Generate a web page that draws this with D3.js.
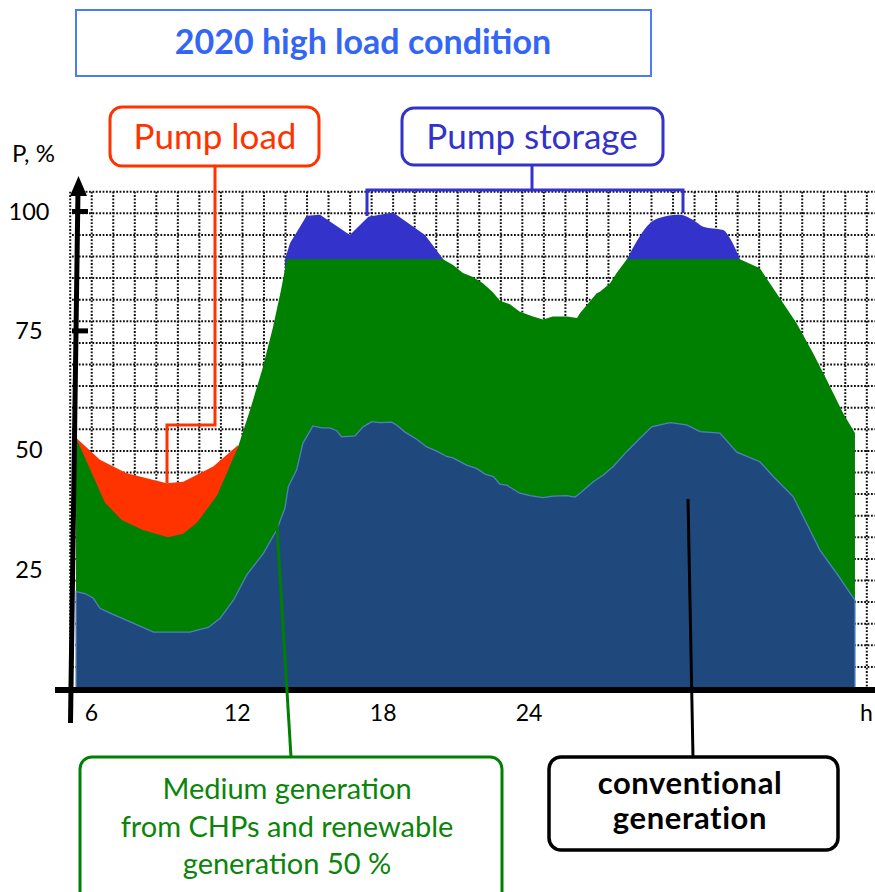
<!DOCTYPE html>
<html><head><meta charset="utf-8">
<script src="https://cdn.jsdelivr.net/npm/d3@7"></script>
<style>body{margin:0;background:#fff}svg{display:block}text{font-family:Lato,"Open Sans",sans-serif}</style>
</head><body><svg id="c" width="875" height="892"></svg>
<script>
// ---- data (hour of day, percent of peak) ----
const conventional = [[5.37,20.4],[5.74,20.0],[6.08,19.0],[6.35,16.9],[6.77,15.9],[7.72,13.8],[8.55,11.9],[10.06,11.9],[10.47,12.5],[10.81,12.9],[11.29,14.8],[11.84,18.6],[12.39,23.9],[13.07,28.4],[13.62,33.3],[13.96,37.9],[14.10,42.4],[14.44,45.9],[14.70,51.5],[15.11,55.1],[15.47,54.7],[15.81,54.7],[16.09,54.1],[16.29,52.8],[16.84,53.0],[17.17,54.9],[17.53,56.0],[17.87,55.8],[18.35,55.9],[18.55,55.3],[18.90,53.8],[19.38,52.3],[19.79,50.7],[20.20,49.8],[20.61,48.7],[20.87,48.4],[21.43,46.9],[21.84,46.2],[22.19,45.0],[22.53,44.5],[22.80,42.9],[23.08,42.7],[23.62,41.0],[24.04,40.5],[24.58,40.1],[24.99,40.4],[25.54,40.5],[25.89,40.2],[26.09,41.0],[26.64,43.4],[27.05,44.8],[27.46,46.6],[28.01,49.7],[28.56,52.5],[29.04,54.9],[29.79,55.8],[30.48,55.3],[31.03,53.9],[31.85,53.6],[32.54,49.6],[33.49,47.6],[34.04,44.5],[34.86,40.3],[35.41,34.7],[35.96,29.1],[36.65,24.2],[37.40,18.6]];
const medium = [[5.37,52.6],[6.56,39.0],[7.25,35.4],[8.12,33.3],[9.15,31.8],[9.77,32.5],[10.34,34.8],[11.17,40.6],[12.03,50.7],[12.52,58.4],[13.02,66.8],[13.47,75.8],[13.80,83.6],[14.04,90.0],[20.46,90.0],[20.87,88.8],[21.28,87.1],[21.69,86.3],[22.10,85.0],[22.51,83.1],[22.80,81.3],[23.21,80.6],[23.62,79.0],[24.16,78.0],[24.57,77.4],[24.98,78.0],[25.56,78.0],[25.97,77.7],[26.09,78.7],[26.78,82.9],[26.91,83.2],[27.33,85.0],[27.60,87.1],[28.02,90.0],[32.67,90.0],[33.49,88.1],[33.90,85.0],[34.45,80.8],[35.00,76.6],[35.68,70.3],[36.24,64.7],[36.92,57.7],[37.40,53.6]];
const pumpLoad = [[5.37,52.6],[6.35,48.0],[7.45,45.2],[9.10,43.1],[9.78,43.4],[11.01,46.6],[12.04,51.1]];
const pumpStorageDay = [[13.96,90.0],[14.17,93.4],[14.58,96.8],[14.85,99.1],[15.40,99.3],[16.63,95.1],[17.39,98.9],[18.41,99.8],[19.72,95.1],[20.47,90.0]];
const pumpStorageEvening = [[28.02,90.0],[28.42,93.7],[28.83,96.8],[29.31,98.6],[30.20,99.3],[30.75,98.2],[31.16,96.8],[31.98,96.1],[32.26,94.4],[32.67,90.0]];
const hourTicks = [6, 12, 18, 24];
const percentTicks = [100, 75, 50, 25];
const markedTicks = [100, 75];

const svg = d3.select("#c");
const x = d3.scaleLinear().domain([6, 24]).range([91.4, 529.1]);
const y = d3.scaleLinear().domain([0, 100]).range([689, 211.5]);

// ---- dotted grid ----
const grid = svg.append("g").attr("stroke", "#111").attr("stroke-width", 2)
  .attr("stroke-dasharray", "1.8,1.6");
const gy = d3.range(24).map(i => 191.7 + i * 21.6);
const gx = d3.range(38).map(i => 70.2 + i * 21.53);
grid.selectAll("line.h").data(gy).join("line").attr("class","h")
  .attr("x1", 72).attr("x2", 875).attr("y1", d => d).attr("y2", d => d);
grid.selectAll("line.v").data(gx).join("line").attr("class","v")
  .attr("x1", d => d).attr("x2", d => d).attr("y1", 191.7).attr("y2", 689);

// ---- areas ----
const area = d3.area().x(d => x(d[0])).y0(y(0)).y1(d => y(d[1]));
svg.append("path").datum(pumpStorageDay).attr("d", area).attr("fill", "#3333CC");
svg.append("path").datum(pumpStorageEvening).attr("d", area.curve(d3.curveMonotoneX)).attr("fill", "#3333CC");
area.curve(d3.curveLinear);
svg.append("path").datum(pumpLoad).attr("d", area).attr("fill", "#FF3300");
svg.append("path").datum(medium).attr("d", area).attr("fill", "#008000");
svg.append("path").datum(conventional).attr("d", area).attr("fill", "#1F497D")
  .attr("stroke", "#4F81BD").attr("stroke-width", 1.3);

// ---- axes ----
svg.append("line").attr("x1", 55).attr("x2", 875).attr("y1", 690).attr("y2", 690)
  .attr("stroke", "#000").attr("stroke-width", 6);
svg.append("line").attr("x1", 70.5).attr("y1", 723).attr("x2", 78).attr("y2", 190)
  .attr("stroke", "#000").attr("stroke-width", 5);
svg.append("path").attr("d", "M78.5,176 L87,196 L70,196 Z").attr("fill", "#000");
svg.selectAll("line.tk").data(markedTicks).join("line").attr("class","tk")
  .attr("x1", 72).attr("x2", 88).attr("y1", d => y(d)).attr("y2", d => y(d))
  .attr("stroke", "#000").attr("stroke-width", 5);

svg.selectAll("text.yl").data(percentTicks).join("text").attr("class","yl")
  .attr("x", 29).attr("y", d => y(d) + 8).attr("text-anchor", "middle")
  .attr("font-size", 23.5).attr("fill", "#000").text(d => d);
svg.selectAll("text.xl").data(hourTicks).join("text").attr("class","xl")
  .attr("x", d => x(d)).attr("y", 721).attr("text-anchor", "middle")
  .attr("font-size", 23).attr("fill", "#000").text(d => d);
svg.append("text").attr("x", 860).attr("y", 721).attr("font-size", 23).text("h");
svg.append("text").attr("x", 12).attr("y", 162).attr("font-size", 24).text("P, %");

// ---- title ----
svg.append("rect").attr("x", 76).attr("y", 10).attr("width", 575).attr("height", 66)
  .attr("fill", "#fff").attr("stroke", "#4A7DF5").attr("stroke-width", 2);
svg.append("text").attr("x", 363).attr("y", 54).attr("text-anchor", "middle")
  .attr("font-size", 34).attr("font-weight", "bold").attr("fill", "#3366F5")
  .text("2020 high load condition");

// ---- annotations ----
function box(x0, y0, w, h, color, sw) {
  svg.append("rect").attr("x", x0).attr("y", y0).attr("width", w).attr("height", h)
    .attr("rx", 12).attr("fill", "#fff").attr("stroke", color).attr("stroke-width", sw);
}
function conn(pts, color) {
  svg.append("path").attr("d", d3.line()(pts)).attr("fill", "none")
    .attr("stroke", color).attr("stroke-width", 3);
}
// pump load
conn([[215,166],[215,425],[167,425],[167,y(43.1)]], "#FF3300");
box(110, 107, 209, 59, "#FF3300", 3);
svg.append("text").attr("x", 215).attr("y", 149).attr("text-anchor", "middle")
  .attr("font-size", 35).attr("fill", "#FF3300").text("Pump load");
// pump storage
conn([[532,165],[532,190]], "#3333CC");
conn([[367,216],[367,190],[683,190],[683,213]], "#3333CC");
box(402, 108, 261, 57, "#3333CC", 3);
svg.append("text").attr("x", 532).attr("y", 149).attr("text-anchor", "middle")
  .attr("font-size", 35).attr("fill", "#3333CC").text("Pump storage");
// medium generation
conn([[291,757],[276.5,518]], "#008000");
box(80, 757, 422, 150, "#008000", 3);
const gt = svg.append("text").attr("text-anchor", "middle").attr("font-size", 29).attr("fill", "#0A850A");
[["Medium generation", 799], ["from CHPs and renewable", 837], ["generation 50 %", 874]].forEach(([t, yy]) =>
  gt.append("tspan").attr("x", 287).attr("y", yy).text(t));
// conventional
conn([[693,757],[688,499]], "#000");
box(549, 757, 289, 93, "#000", 3.5);
[["conventional", 794], ["generation", 829]].forEach(([t, yy]) =>
  svg.append("text").attr("x", 690).attr("y", yy).attr("text-anchor", "middle")
    .attr("font-size", 31).attr("letter-spacing", 0.6)
    .attr("font-weight", "bold").attr("fill", "#000").text(t));
</script></body></html>
